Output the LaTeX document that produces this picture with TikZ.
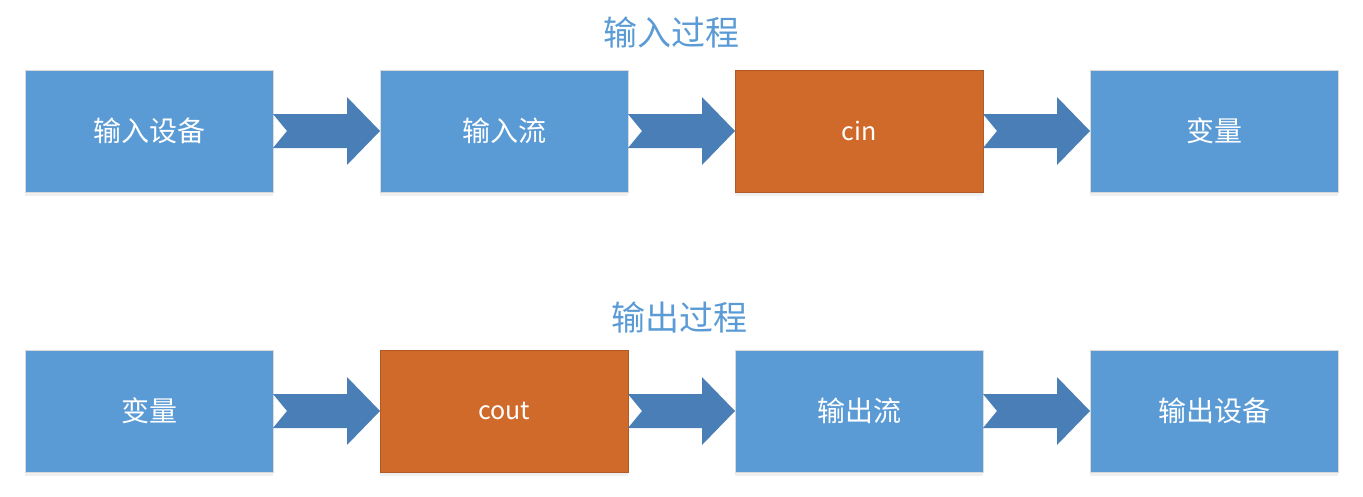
\documentclass[tikz,border=0pt]{standalone}
\usepackage{fontspec}
\setmainfont{Noto Sans CJK SC}
\usetikzlibrary{positioning, calc, shadows}

\definecolor{boxblue}{HTML}{5B9BD5}
\definecolor{boxorange}{HTML}{D06A2B}
\definecolor{arrowblue}{HTML}{4A7EB7}
\definecolor{titleblue}{HTML}{5B9BD5}

\begin{document}
\begin{tikzpicture}[
		x=1pt, y=1pt,
		node distance=107pt,
		box/.style={rectangle, fill=boxblue, draw=black!15, line width=0.8pt, text=white,
			minimum width=248pt, minimum height=122pt, inner sep=0pt, outer sep=0pt,
			font=\fontsize{28}{32}\selectfont,
			drop shadow={opacity=0.12, shadow xshift=0pt, shadow yshift=-4pt}},
		hot/.style={box, fill=boxorange, draw=boxorange!85!black, font=\fontsize{25}{30}\selectfont},
		title/.style={text=titleblue, font=\fontsize{34}{40}\selectfont},
		flow/.style={fill=arrowblue}
		]
		
		\useasboundingbox (0,0) rectangle (1363,-496);
		
		% chevron arrow between two boxes
		\newcommand{\flowarrow}[2]{%
			\fill[flow] ($(#1.east)+(0,17)$) -- ++(74,0) -- ++(0,17) -- (#2.west)
			-- ($(#1.east)+(74,-34)$) -- ++(0,17) -- ($(#1.east)+(0,-17)$)
			-- ($(#1.east)+(14,0)$) -- cycle;}
		
		% Input process
		\node (intitle) [title] at (671,-33) {输入过程};
		\node (indev) [box] at (149,-131) {输入设备};
		\node (instream) [box, right=of indev] {输入流};
		\node (cin) [hot, right=of instream] {cin};
		\node (invar) [box, right=of cin] {变量};
		
		% Output process
		\node (outtitle) [title] at (679,-318) {输出过程};
		\node (outvar) [box] at (149,-411) {变量};
		\node (cout) [hot, right=of outvar] {cout};
		\node (outstream) [box, right=of cout] {输出流};
		\node (outdev) [box, right=of outstream] {输出设备};
		
		% Arrows
		\flowarrow{indev}{instream}
		\flowarrow{instream}{cin}
		\flowarrow{cin}{invar}
		
		\flowarrow{outvar}{cout}
		\flowarrow{cout}{outstream}
		\flowarrow{outstream}{outdev}
		
	\end{tikzpicture}
\end{document}
